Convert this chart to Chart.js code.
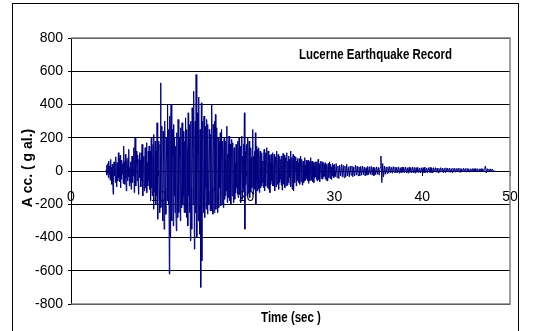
<!DOCTYPE html>
<html>
<head>
<meta charset="utf-8">
<script src="https://cdn.jsdelivr.net/npm/chart.js@4/dist/chart.umd.min.js"></script>
<style>
  html, body { margin: 0; padding: 0; background: #ffffff; }
  #wrap { width: 538px; height: 331px; position: relative; }
</style>
</head>
<body>
<div id="wrap"><canvas id="c" width="538" height="331"></canvas></div>
<script>
// ---- data ----
const chartTitle = "Lucerne Earthquake Record";
const xTitle = "Time (sec )";
const yTitle = "A cc. ( g al.)";
const xTicks = [0, 10, 20, 30, 40, 50];
const yTicks = [-800, -600, -400, -200, 0, 200, 400, 600, 800];

// strong-motion part: 4.0 s .. 29.95 s, sampled every 0.05 s
const strongStart = 4.0;
const strongStep = 0.05;
const strongAccel = [
  // 4 s
  10, -25, 35, -15, 45, -40, 60, -20, 30, -55, 70, -35, 20, -80, 40, -60, -140, 15, 55, -30,
  // 5 s
  40, -70, 85, -30, -95, 50, 20, -60, 110, -40, 75, -65, 95, -100, 30, -50, 65, -20, 45, -75,
  // 6 s
  150, -40, 60, -80, 100, -45, -120, 70, 30, -60, 80, -35, 130, -90, 20, -70, 55, -110, 40, 90,
  // 7 s
  -70, 85, -30, 140, -130, 60, 200, -50, -90, 120, 40, -60, 95, -80, -140, 70, 110, -40, 65, -95,
  // 8 s
  110, -60, 160, -80, -150, 70, 90, -120, 40, 140, -100, 60, 170, -130, 50, -90, 120, -60, 150, -110,
  // 9 s
  120, -180, 80, 200, -100, -150, 60, 160, -230, 220, -120, 90, 180, -200, 120, -150, 290, -100, -290, 140,
  // 10 s
  180, -120, -250, 160, 530, -220, 100, 270, -180, -300, 240, 60, -350, 150, 300, -100, -260, 200, 90, -180,
  // 11 s
  400, -150, -200, 250, -620, 330, -400, 180, 400, -120, -300, 250, 100, -330, 280, -150, 200, -250, 150, -200,
  // 12 s
  -360, 230, -100, -280, 310, -150, -250, 200, 80, -300, 260, -120, -220, 290, 100, -200, 240, -150, -250, 180,
  // 13 s
  -250, 320, -100, -280, 250, 120, -330, 350, -150, 200, -250, 280, -420, 300, -100, -350, 380, 150, -200, 250,
  // 14 s
  480, -470, 200, 300, -250, 580, -150, -400, 350, 100, -300, 445, -200, -380, 250, 150, -700, 410, -540, 200,
  // 15 s
  300, -150, -250, 330, 120, -280, 270, -100, -230, 310, 180, -260, 280, -120, -200, 250, 100, -240, 220, -150,
  // 16 s
  -240, 400, -100, -260, 280, 150, -250, 300, -120, 340, -230, 180, 260, -150, -250, 200, 120, -220, 180, -100,
  // 17 s
  230, -210, 100, 250, -200, 80, 180, -220, 120, 200, -170, 60, -150, 180, -120, 270, -190, 100, -160, 150,
  // 18 s
  210, -180, 60, 160, -200, 100, 190, -150, -80, 170, -190, 120, 140, -170, 50, -130, 160, -100, 120, -140,
  // 19 s
  180, -160, 80, 200, -140, 60, 150, -190, 100, 210, -170, 90, -120, 160, -100, 350, -350, 120, -80, 150,
  // 20 s
  160, -150, 70, 200, -130, 100, 180, -160, 50, 140, -120, 80, -100, 130, 250, -140, 90, -80, 120, -110,
  // 21 s
  230, -200, 150, -60, -120, 130, 50, -110, 140, -130, 70, 120, -100, 80, -90, 110, -70, 60, -100, 90,
  // 22 s
  130, -120, 40, 110, -90, 60, 140, -100, 30, 120, -110, 70, 95, -130, 50, -80, 100, -60, 80, -90,
  // 23 s
  110, -90, 30, 100, -120, 60, 85, -95, 40, 120, -80, 50, 100, -110, 20, -70, 90, -50, 70, -85,
  // 24 s
  90, -115, 40, 105, -80, 30, 95, -100, 50, 80, -90, 20, 110, -85, 60, -70, 90, -40, 70, -80,
  // 25 s
  120, -95, 30, 80, -110, 50, 100, -120, 40, 90, -70, 20, 85, -90, 60, -50, 75, -60, 50, -70,
  // 26 s
  75, -80, 20, 90, -65, 30, 70, -85, 40, 60, -70, 15, 80, -60, 35, -50, 65, -40, 55, -60,
  // 27 s
  65, -75, 25, 55, -60, 20, 80, -55, 30, 60, -65, 10, 50, -70, 30, -40, 55, -35, 45, -50,
  // 28 s
  55, -60, 20, 70, -50, 15, 45, -65, 25, 60, -45, 10, 55, -50, 30, -35, 50, -30, 40, -45,
  // 29 s
  50, -55, 15, 40, -60, 20, 45, -40, 10, 55, -45, 15, 40, -50, 25, -30, 45, -25, 35, -40
];

// coda: 30.0 s .. 48.2 s, sampled every 0.1 s
const codaStart = 30.0;
const codaStep = 0.1;
const codaAccel = [
  // 30 s
  40, -35, 45, -40, 30, -45, 35, -30, 40, -35,
  // 31 s
  35, -40, 30, -35, 40, -30, 25, -35, 30, -25,
  // 32 s
  30, -35, 25, -30, 35, -25, 30, -28, 25, -30,
  // 33 s
  28, -25, 30, -22, 25, -30, 20, -25, 28, -22,
  // 34 s
  25, -20, 28, -25, 22, -28, 20, -22, 25, -20,
  // 35 s
  22, -25, 20, 90, -70, 45, -35, 30, -20, 25,
  // 36 s
  -15, 25, -10, 28, -12, 22, -14, 26, -8, 24,
  // 37 s
  -12, 22, -10, 25, -14, 20, -12, 24, -8, 22,
  // 38 s
  -10, 24, -12, 20, -14, 22, -8, 20, -12, 24,
  // 39 s
  -10, 22, -14, 20, -8, 22, -10, 18, -12, 20,
  // 40 s
  -8, 20, -12, 24, -10, 18, -12, 20, -8, 22,
  // 41 s
  -10, 18, -12, 20, -6, 20, -8, 18, -10, 16,
  // 42 s
  -8, 20, -6, 18, -10, 16, -8, 19, -6, 17,
  // 43 s
  -7, 18, -8, 15, -9, 16, -5, 17, -7, 15,
  // 44 s
  -6, 17, -5, 16, -8, 14, -6, 16, -5, 15,
  // 45 s
  -5, 16, -6, 14, -7, 13, -5, 15, -4, 14,
  // 46 s
  -5, 15, -4, 14, -6, 13, -5, 14, -3, 13,
  // 47 s
  -4, 14, 30, -12, 14, -4, 12, -5, 13, -3,
  // 48 s
  12, -2, 5
];

// ---- build library table ----
const points = strongAccel.map((v, i) => ({ x: +(strongStart + i * strongStep).toFixed(3), y: v }))
  .concat(codaAccel.map((v, i) => ({ x: +(codaStart + i * codaStep).toFixed(3), y: v })));

const FONT = "'Liberation Sans', Arial, sans-serif";
const SQUEEZE = 0.82; // reference text is horizontally condensed

function squeezedText(ctx, text, cx, cy) {
  ctx.save();
  ctx.translate(cx, cy);
  ctx.scale(SQUEEZE, 1);
  ctx.fillText(text, 0, 0);
  ctx.restore();
}

const decorPlugin = {
  id: 'decor',
  beforeDraw(chart) {
    const ctx = chart.ctx;
    ctx.save();
    ctx.fillStyle = '#ffffff';
    ctx.fillRect(0, 0, chart.width, chart.height);
    ctx.strokeStyle = '#000000';
    ctx.lineWidth = 1;
    ctx.strokeRect(12.5, 3.5, 506, 400);
    ctx.restore();
  },
  beforeDatasetsDraw(chart) {
    const ctx = chart.ctx;
    const a = chart.chartArea;
    ctx.save();
    ctx.strokeStyle = '#808080';
    ctx.lineWidth = 1.5;
    ctx.beginPath();
    ctx.moveTo(a.left, a.top);
    ctx.lineTo(a.right, a.top);
    ctx.lineTo(a.right, a.bottom);
    ctx.lineTo(a.left, a.bottom);
    ctx.stroke();
    ctx.restore();
  },
  afterDraw(chart) {
    const ctx = chart.ctx;
    ctx.save();
    ctx.fillStyle = '#000000';
    ctx.textAlign = 'center';
    ctx.textBaseline = 'middle';
    ctx.font = "bold 14px " + FONT;
    squeezedText(ctx, chartTitle, 375.5, 55.5);
    squeezedText(ctx, xTitle, 291, 318.5);
    ctx.translate(28, 168);
    ctx.rotate(-Math.PI / 2);
    ctx.fillText(yTitle, 0, 0);
    ctx.restore();
  }
};

new Chart(document.getElementById('c'), {
  type: 'line',
  data: {
    datasets: [{
      data: points,
      borderColor: '#000080',
      borderWidth: 1,
      pointRadius: 0,
      tension: 0,
      fill: false
    }]
  },
  options: {
    responsive: false,
    animation: false,
    devicePixelRatio: 1,
    layout: { padding: { left: 0, right: 28, top: 38, bottom: 27 } },
    plugins: { legend: { display: false }, tooltip: { enabled: false }, title: { display: false } },
    scales: {
      x: {
        type: 'linear',
        position: { y: 0 },
        min: xTicks[0],
        max: xTicks[xTicks.length - 1],
        afterBuildTicks(scale) { scale.ticks = xTicks.map(v => ({ value: v })); },
        ticks: { color: '#000000', font: { family: FONT, size: 14 }, padding: 14, maxRotation: 0, autoSkip: false },
        grid: { drawOnChartArea: false, drawTicks: true, tickLength: 4, color: '#000000' },
        border: { display: true, color: '#000000', width: 1 }
      },
      y: {
        type: 'linear',
        min: yTicks[0],
        max: yTicks[yTicks.length - 1],
        afterBuildTicks(scale) { scale.ticks = yTicks.map(v => ({ value: v })); },
        afterFit(scale) { scale.width = 71; },
        ticks: { color: '#000000', font: { family: FONT, size: 14 }, padding: 5 },
        grid: { color: '#000000', lineWidth: 1, tickLength: 3, drawTicks: true },
        border: { display: true, color: '#000000', width: 1 }
      }
    }
  },
  plugins: [decorPlugin]
});
</script>
</body>
</html>
